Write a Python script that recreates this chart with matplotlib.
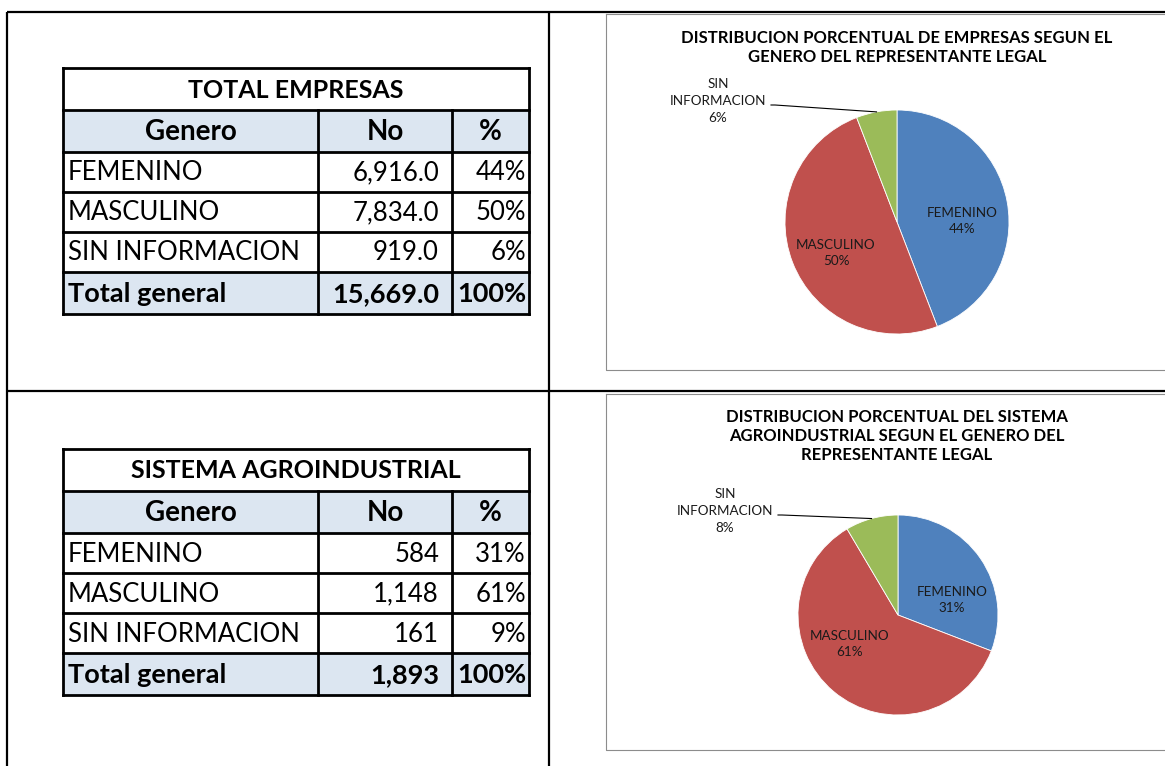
import matplotlib.pyplot as plt
import numpy as np

plt.rcParams['font.family'] = ['Lato', 'DejaVu Sans']

# data
generos = ["FEMENINO", "MASCULINO", "SIN INFORMACION"]

emp_title = "TOTAL EMPRESAS"
emp_no = [6916.0, 7834.0, 919.0]
emp_no_txt = ["6,916.0", "7,834.0", "919.0"]
emp_pct_txt = ["44%", "50%", "6%"]
emp_total_txt = ["15,669.0", "100%"]
emp_chart_pct = ["44%", "50%", "6%"]
emp_chart_title = "DISTRIBUCION PORCENTUAL DE EMPRESAS SEGUN EL\nGENERO DEL REPRESENTANTE LEGAL"

agr_title = "SISTEMA AGROINDUSTRIAL"
agr_no = [584, 1148, 161]
agr_no_txt = ["584", "1,148", "161"]
agr_pct_txt = ["31%", "61%", "9%"]
agr_total_txt = ["1,893", "100%"]
agr_chart_pct = ["31%", "61%", "8%"]
agr_chart_title = "DISTRIBUCION PORCENTUAL DEL SISTEMA\nAGROINDUSTRIAL SEGUN EL GENERO DEL\nREPRESENTANTE LEGAL"

colors = ['#4F81BD', '#C0504D', '#9BBB59']
fill = '#DCE6F1'

W, H = 1165, 766
fig = plt.figure(figsize=(W / 100, H / 100), dpi=100)
ax = fig.add_axes([0, 0, 1, 1])
ax.set_xlim(0, W)
ax.set_ylim(H, 0)
ax.axis('off')

# outer sheet grid
lk = dict(color='black', lw=1.6, solid_capstyle='butt')
ax.plot([7, W], [12, 12], **lk)
ax.plot([7, W], [391, 391], **lk)
ax.plot([7, 7], [12, H], **lk)
ax.plot([549, 549], [12, H], **lk)


def draw_table(top, title, no_txt, pct_txt, total_txt):
    x0, x1, x2, x3 = 63, 318, 452, 529
    rows = [top, top + 42, top + 84, top + 124, top + 164, top + 204, top + 246]
    # fills
    for r0, r1 in [(rows[1], rows[2]), (rows[5], rows[6])]:
        ax.fill_between([x0, x3], r0, r1, color=fill, lw=0)
    tk = dict(color='black', lw=2.0, solid_capstyle='projecting')
    for y in rows:
        ax.plot([x0, x3], [y, y], **tk)
    ax.plot([x0, x0], [rows[0], rows[-1]], **tk)
    ax.plot([x3, x3], [rows[0], rows[-1]], **tk)
    for x in (x1, x2):
        ax.plot([x, x], [rows[1], rows[-1]], **tk)
    fs = 18.5
    fb = 19.5
    ax.text((x0 + x3) / 2, (rows[0] + rows[1]) / 2 + 1, title, ha='center', va='center',
            fontsize=18, fontweight='bold')
    yc = (rows[1] + rows[2]) / 2 + 1
    ax.text((x0 + x1) / 2, yc, "Genero", ha='center', va='center', fontsize=20, fontweight='bold')
    ax.text((x1 + x2) / 2, yc, "No", ha='center', va='center', fontsize=20, fontweight='bold')
    ax.text((x2 + x3) / 2, yc, "%", ha='center', va='center', fontsize=20, fontweight='bold')
    for i in range(3):
        yc = (rows[2 + i] + rows[3 + i]) / 2 + 1
        ax.text(x0 + 5, yc, generos[i], ha='left', va='center', fontsize=fs)
        ax.text(x2 - 13, yc, no_txt[i], ha='right', va='center', fontsize=fs)
        ax.text(x3 - 3, yc, pct_txt[i], ha='right', va='center', fontsize=fs)
    yc = (rows[5] + rows[6]) / 2 + 1
    ax.text(x0 + 5, yc, "Total general", ha='left', va='center', fontsize=fb, fontweight='bold')
    ax.text(x2 - 13, yc, total_txt[0], ha='right', va='center', fontsize=fb, fontweight='bold')
    ax.text(x3 - 3, yc, total_txt[1], ha='right', va='center', fontsize=fb, fontweight='bold')


def draw_pie(box, title, title_y, values, pct, center, radius, lab_pos, sin_pos):
    bx0, by0, by1 = box
    ax.plot([bx0, W + 5, W + 5, bx0, bx0], [by0, by0, by1, by1, by0], color='#8C8C8C', lw=0.8)
    ax.text(897, title_y, title, ha='center', va='top', fontsize=12, fontweight='bold',
            linespacing=1.25)
    wedges, _ = ax.pie(values, colors=colors, startangle=270, counterclock=True,
                       center=center, radius=radius, frame=True,
                       wedgeprops=dict(edgecolor='white', linewidth=0.6))
    for i in range(2):
        ax.text(lab_pos[i][0], lab_pos[i][1], generos[i] + "\n" + pct[i], ha='center', va='center',
                fontsize=9.7, linespacing=1.45, color='#1A1A1A')
    ax.text(sin_pos[0], sin_pos[1], "SIN\nINFORMACION\n" + pct[2], ha='center', va='center',
            fontsize=9.7, linespacing=1.45, color='#1A1A1A')
    w = wedges[2]
    mid = np.deg2rad((w.theta1 + w.theta2) / 2)
    ex = center[0] + radius * np.cos(mid)
    ey = center[1] + radius * np.sin(mid)
    ax.plot([sin_pos[0] + 53, sin_pos[0] + 57, ex], [sin_pos[1] + 4, sin_pos[1] + 4, ey],
            color='black', lw=0.8)


draw_table(68, emp_title, emp_no_txt, emp_pct_txt, emp_total_txt)
draw_table(449, agr_title, agr_no_txt, agr_pct_txt, agr_total_txt)

draw_pie((606, 14, 370), emp_chart_title, 30, emp_no, emp_chart_pct,
         (897, 222), 112, [(962, 221), (836, 253)], (718, 101))
draw_pie((606, 394, 750), agr_chart_title, 409, agr_no, agr_chart_pct,
         (898, 615), 100, [(952, 600), (850, 644)], (725, 511))

ax.set_xlim(0, W)
ax.set_ylim(H, 0)
ax.set_aspect('auto')
ax.axis('off')

fig.savefig('out.png', dpi=100)
